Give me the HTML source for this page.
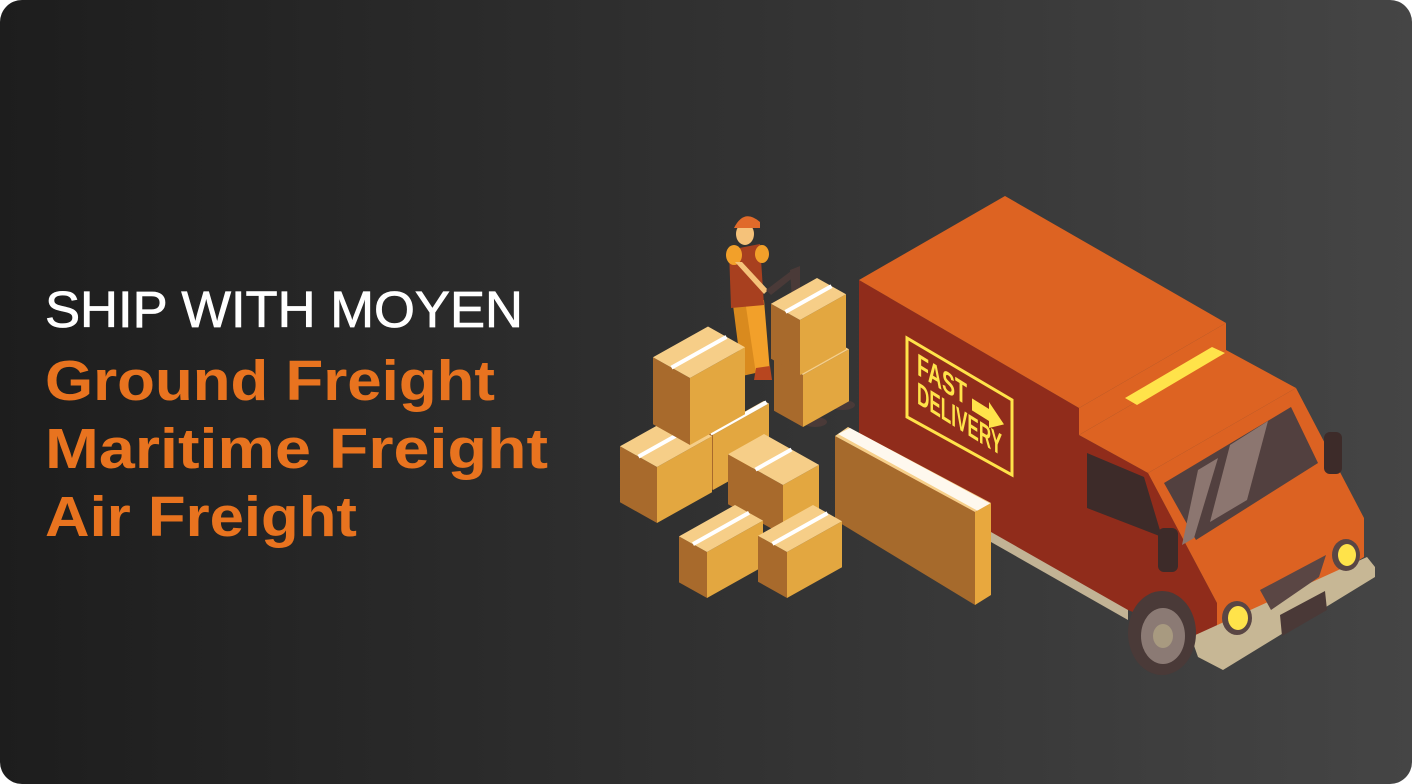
<!DOCTYPE html>
<html><head><meta charset="utf-8"><style>
html,body{margin:0;padding:0;background:#fff;}
svg{display:block;}
</style></head><body>
<svg id="art" width="1412" height="784" viewBox="0 0 1412 784" xmlns="http://www.w3.org/2000/svg">
<defs>
<linearGradient id="bg" x1="0" y1="0" x2="1" y2="0">
<stop offset="0" stop-color="#1d1d1d"/><stop offset="1" stop-color="#454545"/>
</linearGradient>
</defs>
<rect x="0" y="0" width="1412" height="784" rx="22" fill="url(#bg)"/>
<g font-family="Liberation Sans, sans-serif">
<text x="45" y="327" font-size="51" fill="#ffffff" stroke="#ffffff" stroke-width="0.8" textLength="478" lengthAdjust="spacingAndGlyphs">SHIP WITH MOYEN</text>
<text x="45" y="400" font-size="57" font-weight="bold" fill="#e8731f" textLength="450" lengthAdjust="spacingAndGlyphs">Ground Freight</text>
<text x="45" y="468" font-size="57" font-weight="bold" fill="#e8731f" textLength="503" lengthAdjust="spacingAndGlyphs">Maritime Freight</text>
<text x="45" y="536" font-size="57" font-weight="bold" fill="#e8731f" textLength="312" lengthAdjust="spacingAndGlyphs">Air Freight</text>
</g>

<g>
<polygon points="991,530 1128,608 1128,620 991,542" fill="#c2b395"/>
<polygon points="859,280 1079,408 1079,435 1148,473 1217,603 1217,647 1128,610 991,532 859,458" fill="#902c1b"/>
<polygon points="859,280 1005,196 1226,323 1079,408" fill="#dd6322"/>
<polygon points="1079,408 1226,323 1226,350 1079,435" fill="#dd6322"/>
<polygon points="1079,435 1226,350 1296,388 1148,473" fill="#dd6322"/>
<polygon points="1148,473 1296,388 1364,518 1364,557 1217,647 1217,603" fill="#dc6222"/>
<polygon points="1125,398 1212,347 1225,353 1137,405" fill="#ffe34a"/>
<polygon points="1164,483 1291,407 1318,463 1196,540" fill="#52403f"/>
<polygon points="1198,470 1218,458 1194,538 1182,545" fill="#8c7670"/>
<polygon points="1230,445 1268,421 1247,500 1210,522" fill="#8c7670"/>
<polygon points="1087,453 1144,477 1162,537 1087,508" fill="#3d2b29"/>
<rect x="1158" y="528" width="20" height="44" rx="6" fill="#3d2b29"/>
<rect x="1324" y="432" width="18" height="42" rx="6" fill="#3d2b29"/>
<polygon points="1191,637 1367,557 1375,567 1375,577 1223,670 1198,657" fill="#c7b795"/>
<polygon points="1260,590 1326,555 1319,577 1271,610" fill="#5a4644"/>
<polygon points="1280,615 1325,591 1327,610 1282,636" fill="#4a3937"/>
<ellipse cx="1237" cy="618" rx="15" ry="17" fill="#5a4644"/>
<ellipse cx="1238" cy="618" rx="10" ry="12" fill="#ffe34a"/>
<ellipse cx="1346" cy="555" rx="14" ry="16" fill="#5a4644"/>
<ellipse cx="1347" cy="555" rx="9" ry="11" fill="#ffe34a"/>
<ellipse cx="1162" cy="633" rx="34" ry="42" fill="#4a3a38"/>
<ellipse cx="1163" cy="636" rx="22" ry="28" fill="#8b7a74"/>
<ellipse cx="1163" cy="636" rx="10" ry="12" fill="#a89a80"/>
<polygon points="907,338 1012,400 1012,475 907,417" fill="none" stroke="#ffe34a" stroke-width="3"/>
<g transform="translate(917,360) skewY(32)" font-family="Liberation Sans, sans-serif" font-weight="bold" fill="#ffe34a">
<text x="0" y="12" font-size="26" textLength="50" lengthAdjust="spacingAndGlyphs" transform="scale(1,1.2)">FAST</text>
<text x="0" y="36" font-size="26" textLength="85" lengthAdjust="spacingAndGlyphs" transform="scale(1,1.2)">DELIVERY</text>
<polygon points="55,4 72,4 72,-3 87,10 72,23 72,16 55,16" fill="#ffe34a"/>
</g>
</g>

<g>
<polygon points="835,436 975,512 975,605 835,520" fill="#a66a2c"/>
<polygon points="835,436 848,427 991,503 975,512" fill="#f6cf8a"/>
<polygon points="838,434 850,428 991,504 978,511" fill="#ffffff" opacity="0.85"/>
<polygon points="975,512 991,503 991,595 975,605" fill="#e8a83e"/>
</g>

<g>
<ellipse cx="815" cy="422" rx="12" ry="5" fill="#4a3a38"/>
<ellipse cx="843" cy="405" rx="12" ry="5" fill="#4a3a38"/>
<polygon points="733,305 752,305 760,372 742,376" fill="#d98a1e"/>
<polygon points="745,300 764,300 770,372 756,374" fill="#f2a02a"/>
<polygon points="756,368 770,366 772,380 754,380" fill="#b8461f"/>
<polygon points="729,250 760,244 764,305 731,308" fill="#a8401f"/>
<ellipse cx="734" cy="255" rx="8" ry="10" fill="#f2a02a"/>
<ellipse cx="762" cy="254" rx="7" ry="9" fill="#f2a02a"/>
<polygon points="735,262 742,262 768,290 764,294" fill="#f5c27a"/>
<ellipse cx="745" cy="234" rx="9" ry="11" fill="#f5c27a"/>
<path d="M734,228 Q744,208 760,222 L760,228 Z" fill="#e06a2a"/>
<polygon points="766,290 795,268 800,272 771,295" fill="#4a3a38"/>
<polygon points="790,270 800,266 800,300 792,300" fill="#4a3a38"/>
</g>

<g id="boxes"></g>
</svg>
<script>
const boxData=[
 [713,490,5,56,55],
 [657,523,37,55,56],
 [690,445,37,55,67],
 [803,427,29,46,52],
 [800,375,29,46,55],
 [783,535,55,36,50],
 [707,598,28,56,46],
 [787,598,29,55,46]
];
const g=document.getElementById('boxes');
const NS='http://www.w3.org/2000/svg';
function poly(pts,fill){
 const p=document.createElementNS(NS,'polygon');
 p.setAttribute('points',pts.map(q=>q.join(',')).join(' '));
 p.setAttribute('fill',fill);
 
 
 return p;
}
const s=0.56;
boxData.forEach((d,i)=>{
 const [fx,fy,bx,ax,h]=d;
 const F=[fx,fy],L=[fx-bx,fy-s*bx],R=[fx+ax,fy-s*ax];
 const Ft=[fx,fy-h],Lt=[L[0],L[1]-h],Rt=[R[0],R[1]-h],Bt=[L[0]+ax,L[1]-s*ax-h];
 const grp=document.createElementNS(NS,'g');
 
 
 grp.appendChild(poly([L,F,Ft,Lt],'#a86a2c'));
 grp.appendChild(poly([F,R,Rt,Ft],'#e3a740'));
 grp.appendChild(poly([Lt,Ft,Rt,Bt],'#f6ce88'));
 const m1=[(Lt[0]+Ft[0])/2,(Lt[1]+Ft[1])/2],m2=[(Bt[0]+Rt[0])/2,(Bt[1]+Rt[1])/2];
 const tape=document.createElementNS(NS,'line');
 tape.setAttribute('x1',m1[0]);tape.setAttribute('y1',m1[1]);
 tape.setAttribute('x2',m2[0]);tape.setAttribute('y2',m2[1]);
 tape.setAttribute('stroke','#ffffff');tape.setAttribute('stroke-width','4');
 
 
 grp.appendChild(tape);
 g.appendChild(grp);
});
</script>
</body></html>
